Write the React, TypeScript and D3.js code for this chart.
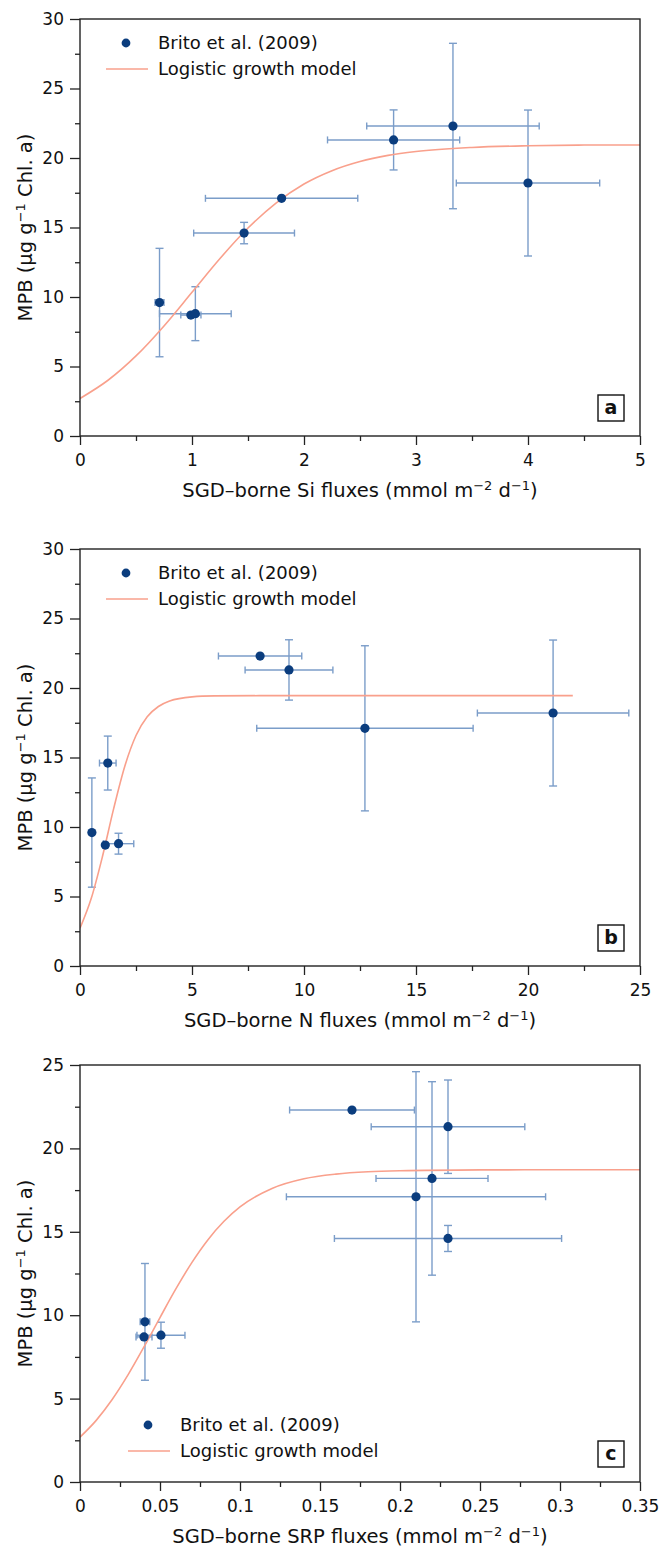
import { useEffect, useRef } from "react";
import * as d3 from "d3";

const FONT = "'DejaVu Sans', 'Open Sans', sans-serif";

// MPB (ug g-1 Chl. a), the same eight samples in every panel
const mpb = [9.6, 8.7, 8.8, 14.6, 17.1, 21.3, 22.3, 18.2];

// panel a : Si fluxes
const siFlux = [0.71, 0.99, 1.03, 1.465, 1.8, 2.8, 3.33, 4.0];
const siFluxErr = [0.04, 0.09, 0.32, 0.45, 0.68, 0.59, 0.77, 0.64];
const siMpbErr = [3.9, 0, 1.94, 0.77, 0, 2.16, 5.95, 5.25];
const siModelX = [0, 0.25, 0.5, 0.75, 1, 1.25, 1.5, 1.75, 2, 2.25, 2.5, 2.75, 3, 3.5, 4, 4.5, 5];
const siModelY = [2.7, 4.01, 5.76, 7.92, 10.34, 12.77, 14.96, 16.76, 18.13, 19.09, 19.75, 20.19, 20.47, 20.76, 20.88, 20.93, 20.94];

// panel b : N fluxes
const nFlux = [0.53, 1.13, 1.72, 1.24, 12.72, 9.33, 8.04, 21.12];
const nFluxErr = [0, 0, 0.68, 0.37, 4.83, 1.96, 1.86, 3.38];
const nMpbErr = [3.93, 0, 0.75, 1.94, 5.94, 2.17, 0, 5.25];
const nModelX = [0, 0.5, 1, 1.5, 2, 2.5, 3, 3.5, 4, 5, 6, 8, 12, 16, 22];
const nModelY = [2.72, 4.85, 7.86, 11.3, 14.37, 16.58, 17.93, 18.67, 19.06, 19.36, 19.43, 19.45, 19.45, 19.45, 19.45];

// panel c : SRP fluxes
const srpFlux = [0.0406, 0.04, 0.0506, 0.23, 0.21, 0.23, 0.17, 0.22];
const srpFluxErr = [0.003, 0.005, 0.015, 0.071, 0.081, 0.048, 0.039, 0.035];
const srpMpbErr = [3.5, 0, 0.78, 0.78, 7.5, 2.8, 0, 5.8];
const srpModelX = [0, 0.01, 0.02, 0.03, 0.04, 0.05, 0.06, 0.07, 0.08, 0.09, 0.1, 0.12, 0.14, 0.16, 0.18, 0.2, 0.25, 0.3, 0.35];
const srpModelY = [2.69, 3.68, 4.93, 6.42, 8.1, 9.86, 11.59, 13.17, 14.53, 15.63, 16.49, 17.6, 18.18, 18.46, 18.6, 18.66, 18.71, 18.72, 18.72];

const legendLabels = ["Brito et al. (2009)", "Logistic growth model"];

const W = 560;
const H = 417;
const LEFT = 80;
const BAR = "#7b9dc9";
const DOT = "#0b3d7e";
const CURVE = "#f9a08c";

const fmt = (d: number) => String(+(+d).toFixed(3));

function Panel(props: any) {
  const { id, top, xMax, xStep, yMax, xs, xErr, yErr, modelX, modelY, element, letter, legendX, legendY } = props;
  const xAxisRef = useRef<SVGGElement>(null);
  const yAxisRef = useRef<SVGGElement>(null);

  const x = d3.scaleLinear().domain([0, xMax]).range([0, W]);
  const y = d3.scaleLinear().domain([0, yMax]).range([H, 0]);

  const xMajor = d3.range(0, xMax + xStep / 2, xStep);
  const xMinor = d3.range(xStep / 2, xMax, xStep);
  const yMajor = d3.range(0, yMax + 0.1, 5);
  const yMinor = d3.range(2.5, yMax, 5);

  useEffect(() => {
    const gx = d3.select(xAxisRef.current);
    gx.selectAll("*").remove();
    gx.append("g").call(d3.axisBottom(x).tickValues(xMinor).tickSize(5).tickFormat(() => ""));
    gx.append("g").call(d3.axisBottom(x).tickValues(xMajor).tickSize(9).tickPadding(9).tickFormat(fmt as any));

    const gy = d3.select(yAxisRef.current);
    gy.selectAll("*").remove();
    gy.append("g").call(d3.axisLeft(y).tickValues(yMinor).tickSize(5).tickFormat(() => ""));
    gy.append("g").call(d3.axisLeft(y).tickValues(yMajor).tickSize(10).tickPadding(6).tickFormat(fmt as any));

    [gx, gy].forEach((g) => {
      g.selectAll(".domain").remove();
      g.selectAll("line").attr("stroke", "#222").attr("stroke-width", 1.3);
      g.selectAll("text").attr("font-size", 17).attr("font-family", FONT).attr("fill", "#111");
    });
  }, []);

  const line = d3
    .line<number>()
    .x((_, i) => x(modelX[i]))
    .y((d) => y(d))
    .curve(d3.curveMonotoneX);

  return (
    <g transform={`translate(${LEFT},${top})`}>
      <defs>
        <clipPath id={`clip-${id}`}>
          <rect x={0} y={0} width={W} height={H} />
        </clipPath>
      </defs>

      {/* error bars */}
      <g stroke={BAR} strokeWidth={1.4} fill="none">
        {xs.map((xv: number, i: number) => {
          const cy = y(mpb[i]);
          const cx = x(xv);
          return (
            <g key={i}>
              {xErr[i] > 0 && (
                <>
                  <line x1={x(xv - xErr[i])} x2={x(xv + xErr[i])} y1={cy} y2={cy} />
                  <line x1={x(xv - xErr[i])} x2={x(xv - xErr[i])} y1={cy - 3.5} y2={cy + 3.5} />
                  <line x1={x(xv + xErr[i])} x2={x(xv + xErr[i])} y1={cy - 3.5} y2={cy + 3.5} />
                </>
              )}
              {yErr[i] > 0 && (
                <>
                  <line x1={cx} x2={cx} y1={y(mpb[i] - yErr[i])} y2={y(mpb[i] + yErr[i])} />
                  <line x1={cx - 4} x2={cx + 4} y1={y(mpb[i] - yErr[i])} y2={y(mpb[i] - yErr[i])} />
                  <line x1={cx - 4} x2={cx + 4} y1={y(mpb[i] + yErr[i])} y2={y(mpb[i] + yErr[i])} />
                </>
              )}
            </g>
          );
        })}
      </g>

      <path d={line(modelY) || ""} fill="none" stroke={CURVE} strokeWidth={1.6} clipPath={`url(#clip-${id})`} />

      {xs.map((xv: number, i: number) => (
        <circle key={i} cx={x(xv)} cy={y(mpb[i])} r={4.6} fill={DOT} />
      ))}

      {/* frame and axes */}
      <rect x={0} y={0} width={W} height={H} fill="none" stroke="#222" strokeWidth={1.4} />
      <g ref={xAxisRef} transform={`translate(0,${H})`} />
      <g ref={yAxisRef} />

      {/* legend */}
      <g fontFamily={FONT} fontSize={18} fill="#111">
        <circle cx={legendX + 20} cy={legendY} r={4.4} fill={DOT} />
        <text x={legendX + 52} y={legendY + 6}>{legendLabels[0]}</text>
        <line x1={legendX} x2={legendX + 42} y1={legendY + 26} y2={legendY + 26} stroke={CURVE} strokeWidth={1.6} />
        <text x={legendX + 52} y={legendY + 32}>{legendLabels[1]}</text>
      </g>

      {/* panel letter */}
      <rect x={518} y={H - 41} width={26} height={26} fill="#fff" stroke="#111" strokeWidth={1.4} />
      <text x={531} y={H - 22} textAnchor="middle" fontFamily={FONT} fontWeight="bold" fontSize={19} fill="#111">
        {letter}
      </text>

      {/* axis titles */}
      <text x={W / 2} y={H + 61} textAnchor="middle" fontFamily={FONT} fontSize={19.5} fill="#111">
        {`SGD–borne ${element} fluxes (mmol m`}
        <tspan dy={-7} fontSize={13}>−2</tspan>
        <tspan dy={7}> d</tspan>
        <tspan dy={-7} fontSize={13}>−1</tspan>
        <tspan dy={7}>)</tspan>
      </text>
      <text
        transform={`translate(${32 - LEFT},${H / 2}) rotate(-90)`}
        textAnchor="middle"
        fontFamily={FONT}
        fontSize={19.5}
        fill="#111"
      >
        {"MPB (μg g"}
        <tspan dy={-7} fontSize={13}>−1</tspan>
        <tspan dy={7}> Chl. a)</tspan>
      </text>
    </g>
  );
}

export default function App() {
  return (
    <svg
      width={659}
      height={1550}
      style={{ position: "absolute", left: 0, top: 0, background: "#fff" }}
    >
      <Panel
        id="a"
        top={19}
        xMax={5}
        xStep={1}
        yMax={30}
        xs={siFlux}
        xErr={siFluxErr}
        yErr={siMpbErr}
        modelX={siModelX}
        modelY={siModelY}
        element="Si"
        letter="a"
        legendX={26}
        legendY={24}
      />
      <Panel
        id="b"
        top={549}
        xMax={25}
        xStep={5}
        yMax={30}
        xs={nFlux}
        xErr={nFluxErr}
        yErr={nMpbErr}
        modelX={nModelX}
        modelY={nModelY}
        element="N"
        letter="b"
        legendX={26}
        legendY={24}
      />
      <Panel
        id="c"
        top={1065}
        xMax={0.35}
        xStep={0.05}
        yMax={25}
        xs={srpFlux}
        xErr={srpFluxErr}
        yErr={srpMpbErr}
        modelX={srpModelX}
        modelY={srpModelY}
        element="SRP"
        letter="c"
        legendX={48}
        legendY={360}
      />
    </svg>
  );
}
